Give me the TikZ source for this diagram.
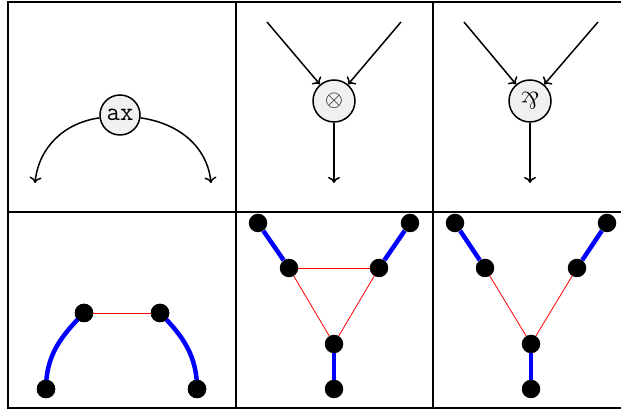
\documentclass[tikz,border=0pt]{standalone}
\usepackage{amssymb}
\usepackage{graphicx}
\usetikzlibrary{arrows.meta}
\begin{document}
\begin{tikzpicture}[x=1pt,y=1pt,
  gnode/.style={circle,draw,line width=1.5pt,fill=black!6,minimum size=42pt,inner sep=0pt},
  dot/.style={circle,fill=black,minimum size=18.5pt,inner sep=0pt},
  arr/.style={line width=1.5pt,-{To[length=6pt,width=12pt]}},
  bline/.style={draw=blue,line width=4.5pt},
  rline/.style={draw=red,line width=0.8pt},
  frame/.style={line width=2pt}]
\useasboundingbox (0,0) rectangle (621,411);
\begin{scope}
\clip (0,0) rectangle (621,411);
\draw[frame] (8,3) rectangle (660,409);
\draw[frame] (8,199) -- (660,199);
\draw[frame] (236,3) -- (236,409);
\draw[frame] (433,3) -- (433,409);

% top row
\node[gnode,minimum size=40pt] (ax) at (120,296) {\fontsize{26}{26}\selectfont\ttfamily ax};
\coordinate (axl) at (35,228);
\coordinate (axr) at (211,228);
\draw[arr] (ax) to[out=188,in=84] (axl);
\draw[arr] (ax) to[out=-8,in=96] (axr);

\node[gnode] (ot) at (334,310) {\scalebox{2.3}{$\otimes$}};
\coordinate (ota) at (267,389);
\coordinate (otb) at (401,389);
\coordinate (otc) at (334,228);
\draw[arr] (ota) -- (ot);
\draw[arr] (otb) -- (ot);
\draw[arr] (ot) -- (otc);

\node[gnode] (pa) at (530,310) {\scalebox{2.4}{\rotatebox[origin=c]{180}{\&}}};
\coordinate (paa) at (464,389);
\coordinate (pab) at (598,389);
\coordinate (pac) at (530,228);
\draw[arr] (paa) -- (pa);
\draw[arr] (pab) -- (pa);
\draw[arr] (pa) -- (pac);

% bottom row, panel 1
\node[dot] (a1) at (46,22) {};
\node[dot] (a2) at (84,98) {};
\node[dot] (a3) at (160,98) {};
\node[dot] (a4) at (197,22) {};
\path[bline] (a1.center) to[out=90,in=-135] (a2.center);
\path[bline] (a4.center) to[out=90,in=-45] (a3.center);
\path[rline] (a2) -- (a3);
\node[dot] at (a1) {};
\node[dot] at (a2) {};
\node[dot] at (a3) {};
\node[dot] at (a4) {};

% panel 2
\node[dot] (b1) at (258,188) {};
\node[dot] (b2) at (289,143) {};
\node[dot] (b3) at (379,143) {};
\node[dot] (b4) at (410,188) {};
\node[dot] (b5) at (334,67) {};
\node[dot] (b6) at (334,22) {};
\path[bline] (b1) -- (b2);
\path[bline] (b4) -- (b3);
\path[bline] (b5) -- (b6);
\path[rline] (b2) -- (b3);
\path[rline] (b2) -- (b5);
\path[rline] (b3) -- (b5);

% panel 3
\node[dot] (c1) at (455,188) {};
\node[dot] (c2) at (485,143) {};
\node[dot] (c3) at (577,143) {};
\node[dot] (c4) at (607,188) {};
\node[dot] (c5) at (531,67) {};
\node[dot] (c6) at (531,22) {};
\path[bline] (c1) -- (c2);
\path[bline] (c4) -- (c3);
\path[bline] (c5) -- (c6);
\path[rline] (c2) -- (c5);
\path[rline] (c3) -- (c5);
\end{scope}
\end{tikzpicture}
\end{document}
